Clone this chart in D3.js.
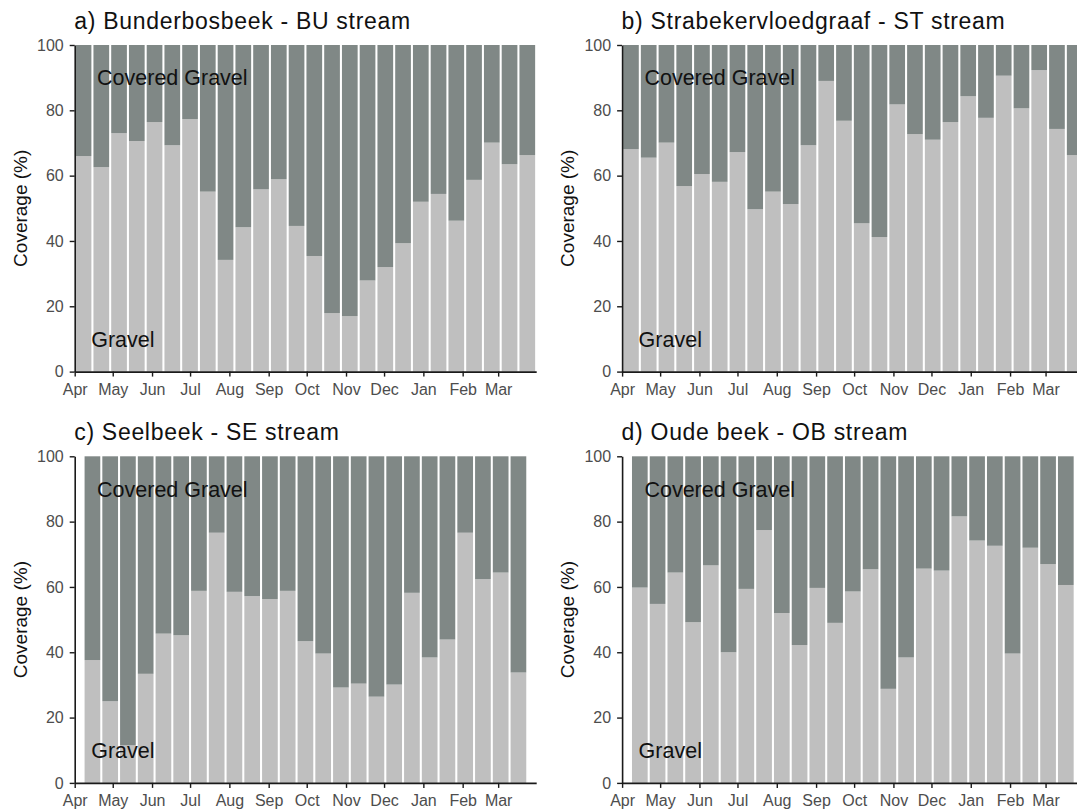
<!DOCTYPE html>
<html>
<head>
<meta charset="utf-8">
<script src="https://cdn.jsdelivr.net/npm/d3@7"></script>
<style>
  body { margin: 0; background: #fff; }
  svg { display: block; }
</style>
</head>
<body>
<svg id="chart" width="1077" height="809"></svg>
<script>
// ---- Data -----------------------------------------------------------------
// Sampling dates (centre of each fortnight) for BU / ST streams
const datesAB = [
  "2018-04-08","2018-04-22","2018-05-06","2018-05-20","2018-06-03","2018-06-17",
  "2018-07-01","2018-07-15","2018-07-29","2018-08-12","2018-08-26","2018-09-09",
  "2018-09-23","2018-10-07","2018-10-21","2018-11-04","2018-11-18","2018-12-02",
  "2018-12-16","2018-12-30","2019-01-13","2019-01-27","2019-02-10","2019-02-24",
  "2019-03-10","2019-03-24"
];
// Sampling dates for SE / OB streams
const datesCD = [
  "2018-04-15","2018-04-29","2018-05-13","2018-05-27","2018-06-10","2018-06-24",
  "2018-07-08","2018-07-22","2018-08-05","2018-08-19","2018-09-02","2018-09-16",
  "2018-09-30","2018-10-14","2018-10-28","2018-11-11","2018-11-25","2018-12-09",
  "2018-12-23","2019-01-06","2019-01-20","2019-02-03","2019-02-17","2019-03-03",
  "2019-03-17"
];

// Gravel coverage (%) per sample; the remainder is covered gravel
const gravelBU = [66.0, 62.6, 73.0, 70.6, 76.4, 69.3, 77.3, 55.1, 34.2, 44.2, 55.8, 58.9, 44.6,
                  35.4, 17.9, 17.0, 27.9, 32.0, 39.3, 52.0, 54.4, 46.2, 58.7, 70.1, 63.5, 66.3];
const gravelST = [68.1, 65.5, 70.1, 56.8, 60.5, 58.1, 67.2, 49.7, 55.1, 51.3, 69.3, 89.0, 76.8,
                  45.4, 41.2, 81.8, 72.7, 71.0, 76.4, 84.3, 77.7, 90.6, 80.6, 92.3, 74.3, 66.3];
const gravelSE = [37.6, 25.0, 11.5, 33.4, 45.7, 45.2, 58.8, 76.6, 58.5, 57.2, 56.3, 58.8, 43.4,
                  39.6, 29.2, 30.4, 26.4, 30.1, 58.2, 38.4, 43.9, 76.6, 62.4, 64.4, 33.8];
const gravelOB = [59.8, 54.8, 64.4, 49.2, 66.6, 40.0, 59.4, 77.4, 52.0, 42.2, 59.7, 49.0, 58.6,
                  65.4, 28.8, 38.4, 65.6, 65.0, 81.6, 74.2, 72.6, 39.6, 72.0, 67.0, 60.6];

const panelTitles = [
  "a) Bunderbosbeek - BU stream",
  "b) Strabekervloedgraaf - ST stream",
  "c) Seelbeek - SE stream",
  "d) Oude beek - OB stream"
];

const xDomain = ["2018-04-01", "2019-03-31"];
const monthTicks = ["2018-04-01","2018-05-01","2018-06-01","2018-07-01","2018-08-01","2018-09-01",
                    "2018-10-01","2018-11-01","2018-12-01","2019-01-01","2019-02-01","2019-03-01"];
const yTicks = [0, 20, 40, 60, 80, 100];
const yLabel = "Coverage (%)";

// In-panel labels: [text, date, y value]
const panelLabels = [
  ["Covered Gravel", "2018-06-17", 90],
  ["Gravel", "2018-05-09", 10]
];

const seriesKeys = ["gravel", "covered"];
const seriesColors = { gravel: "#bfbfbf", covered: "#808886" };

// ---- Layout ---------------------------------------------------------------
const parse = d3.utcParse("%Y-%m-%d");
const plotW = 461.5, plotH = 326.6;
const cols = [74.7, 622.1];
const rows = [45, 456.3];
const font = "'Liberation Sans', Arial, sans-serif";

const panels = [
  { title: panelTitles[0], dates: datesAB, gravel: gravelBU, col: 0, row: 0 },
  { title: panelTitles[1], dates: datesAB, gravel: gravelST, col: 1, row: 0 },
  { title: panelTitles[2], dates: datesCD, gravel: gravelSE, col: 0, row: 1 },
  { title: panelTitles[3], dates: datesCD, gravel: gravelOB, col: 1, row: 1 }
];

const svg = d3.select("#chart");

const x = d3.scaleUtc().domain(xDomain.map(parse)).range([0, plotW]);
const y = d3.scaleLinear().domain([0, 100]).range([plotH, 0]);
const halfBinHours = 7 * 0.885 * 24; // half width of a fortnightly bar

panels.forEach(p => {
  const g = svg.append("g")
    .attr("transform", `translate(${cols[p.col]},${rows[p.row]})`);

  const rowsData = p.dates.map((d, i) => ({
    date: parse(d), gravel: p.gravel[i], covered: 100 - p.gravel[i]
  }));
  const stacked = d3.stack().keys(seriesKeys)(rowsData);
  const x0 = d => x(d3.utcHour.offset(d.data.date, -halfBinHours));
  const x1 = d => x(d3.utcHour.offset(d.data.date, halfBinHours));

  g.selectAll("g.layer")
    .data(stacked)
    .join("g")
      .attr("class", "layer")
      .attr("fill", s => seriesColors[s.key])
    .selectAll("rect")
    .data(s => s)
    .join("rect")
      .attr("x", x0)
      .attr("width", d => x1(d) - x0(d))
      .attr("y", d => y(d[1]))
      .attr("height", d => y(d[0]) - y(d[1]));

  // in-panel labels
  g.selectAll("text.plab")
    .data(panelLabels)
    .join("text")
      .attr("class", "plab")
      .attr("x", d => x(parse(d[1])))
      .attr("y", d => y(d[2]))
      .attr("dy", "0.36em")
      .attr("text-anchor", "middle")
      .attr("font-family", font)
      .attr("font-size", 21.5)
      .attr("fill", "#111")
      .text(d => d[0]);

  // y axis
  const ya = g.append("g")
    .call(d3.axisLeft(y).tickValues(yTicks).tickSize(5).tickPadding(6).tickSizeOuter(0));
  // x axis
  const xa = g.append("g")
    .attr("transform", `translate(0,${plotH})`)
    .call(d3.axisBottom(x).tickValues(monthTicks.map(parse))
      .tickFormat(d3.utcFormat("%b")).tickSize(5).tickPadding(7).tickSizeOuter(0));

  [ya, xa].forEach(a => {
    a.select(".domain").attr("stroke", "#1a1a1a").attr("stroke-width", 1.6);
    a.selectAll(".tick line").attr("stroke", "#1a1a1a").attr("stroke-width", 1.4);
    a.selectAll(".tick text")
      .attr("font-family", font).attr("font-size", 16).attr("fill", "#4d4d4d");
  });

  // y axis title
  g.append("text")
    .attr("transform", `translate(${-48},${plotH / 2}) rotate(-90)`)
    .attr("text-anchor", "middle")
    .attr("font-family", font)
    .attr("font-size", 19)
    .attr("fill", "#111")
    .text(yLabel);

  // panel title
  g.append("text")
    .attr("x", -0.5)
    .attr("y", -16.5)
    .attr("font-family", font)
    .attr("font-size", 23)
    .attr("letter-spacing", 0.7)
    .attr("fill", "#111")
    .text(p.title);
});
</script>
</body>
</html>
